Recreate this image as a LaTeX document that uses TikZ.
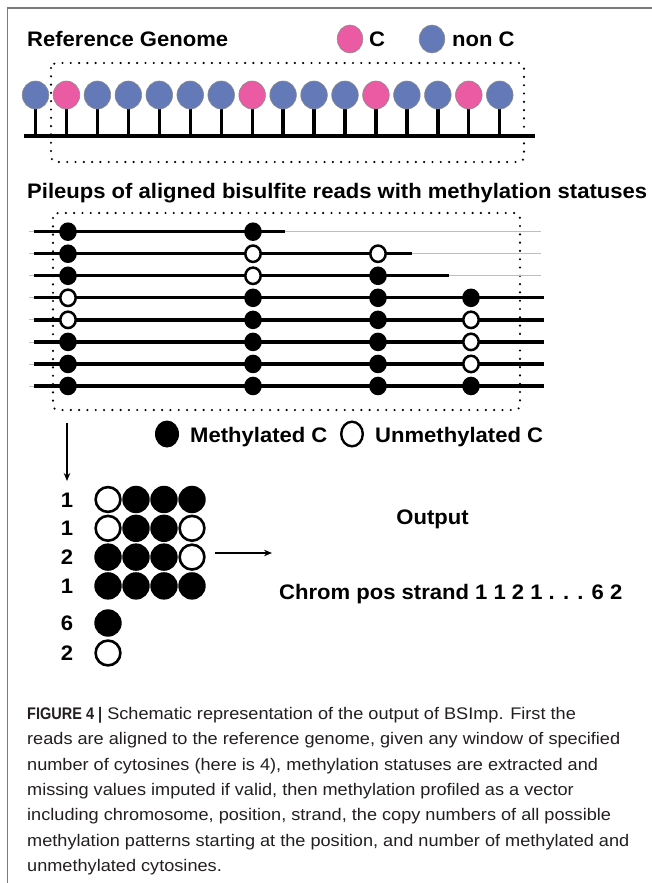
\documentclass[tikz,border=0pt]{standalone}
\usepackage{graphicx}
\usepackage{fontspec}
\setmainfont{Liberation Sans}
\newfontfamily\hfont[FakeStretch=1.05]{Liberation Sans}
\newfontfamily\cfont[FakeStretch=1.08]{Liberation Sans}
\usetikzlibrary{arrows.meta}
\definecolor{cpink}{HTML}{EA5BA4}
\definecolor{cblue}{HTML}{6479B7}
\definecolor{framegray}{HTML}{7A7A7A}
\definecolor{captxt}{HTML}{231F20}
\tikzset{
  titletext/.style={anchor=base west, inner sep=0pt, font=\hfont\bfseries\fontsize{21}{24}\selectfont},
  numtext/.style={anchor=base, inner sep=0pt, font=\hfont\bfseries\fontsize{21}{24}\selectfont},
  captext/.style={anchor=base west, inner sep=0pt, text=captxt, font=\cfont\fontsize{16.8}{20}\selectfont},
  dotbox/.style={line width=2.4pt, dash pattern=on 0pt off 8.3pt, line cap=round, rounded corners=5pt},
  readline/.style={line width=3.3pt},
  ghostline/.style={line width=0.8pt, draw=black!25},
  gcirc/.style={draw=black!45, line width=0.6pt},
  arrowline/.style={line width=1.3pt, -{Stealth[length=8pt,width=6.5pt]}},
}
\newcommand\PileMeth[2]{\fill (#1,#2) ellipse [x radius=8.8pt, y radius=9.3pt];}
\newcommand\PileUnm[2]{\draw[line width=2.5pt, fill=white] (#1,#2) ellipse [x radius=7.7pt, y radius=8.2pt];}
\newcommand\GridMeth[2]{\fill (#1,#2) circle [radius=13.7pt];}
\newcommand\GridUnm[2]{\draw[line width=2.6pt, fill=white] (#1,#2) circle [radius=12.4pt];}
\begin{document}
\begin{tikzpicture}[x=1pt,y=-1pt]
\useasboundingbox (0,0) rectangle (651,883);
\fill[white] (0,0) rectangle (651,883);
% frame
\draw[framegray, line width=1.6pt] (7.5,884) -- (7.5,8) -- (652,8);

% ---- Reference genome ----
\node[titletext] (reftitle) at (27,47) {Reference Genome};
\path[fill=cpink, gcirc] (350,39) ellipse [x radius=12.8pt, y radius=14pt];
\node[titletext] (legC) at (369,47) {C};
\path[fill=cblue, gcirc] (432,39) ellipse [x radius=12.8pt, y radius=14pt];
\node[titletext] (legNonC) at (452,47) {non C};

\foreach \i in {0,...,15} {
  \pgfmathsetmacro\xx{35.5+30.95*\i}
  \draw[line width=3.3pt] (\xx,108) -- (\xx,136);
}
\draw[line width=3.5pt] (24,136) -- (535,136);
\foreach \i/\c in {0/cblue,1/cpink,2/cblue,3/cblue,4/cblue,5/cblue,6/cblue,7/cpink,8/cblue,9/cblue,10/cblue,11/cpink,12/cblue,13/cblue,14/cpink,15/cblue} {
  \pgfmathsetmacro\xx{35.5+30.95*\i}
  \path[fill=\c, gcirc] (\xx,95) ellipse [x radius=13.3pt, y radius=14pt];
}
\draw[dotbox] (51,63) rectangle (524,162);

% ---- Pileups ----
\node[titletext] (piletitle) at (27,198.5) {Pileups of aligned bisulfite reads with methylation statuses};
\draw[dotbox] (53,213) rectangle (520,410);

\foreach \r/\e in {0/285,1/412,2/449,3/544,4/544,5/544,6/544,7/544} {
  \pgfmathsetmacro\yy{231.7+22.04*\r}
  \draw[ghostline] (29,\yy) -- (541,\yy);
  \draw[readline] (34,\yy) -- (\e,\yy);
}
% column x: 68, 253, 378, 471
\foreach \c/\r/\t in {68/0/m,253/0/m,
                      68/1/m,253/1/u,378/1/u,
                      68/2/m,253/2/u,378/2/m,
                      68/3/u,253/3/m,378/3/m,471/3/m,
                      68/4/u,253/4/m,378/4/m,471/4/u,
                      68/5/m,253/5/m,378/5/m,471/5/u,
                      68/6/m,253/6/m,378/6/m,471/6/u,
                      68/7/m,253/7/m,378/7/m,471/7/m} {
  \pgfmathsetmacro\yy{231.7+22.04*\r}
  \if\t m \PileMeth{\c}{\yy}\else \PileUnm{\c}{\yy}\fi
}

% legend
\fill (167,434) ellipse [x radius=12pt, y radius=13.5pt];
\node[titletext] (legMeth) at (190,442) {Methylated C};
\draw[line width=2.4pt, fill=white] (352,434) ellipse [x radius=10.8pt, y radius=12.3pt];
\node[titletext] (legUnm) at (375,442) {Unmethylated C};

% down arrow
\coordinate (dA) at (67,423);
\coordinate (dB) at (67,481);
\draw[arrowline] (dA) -- (dB);

% ---- pattern grid ----
\foreach \i/\n in {0/1,1/1,2/2,3/1} {
  \pgfmathsetmacro\yy{499.5+28.8*\i}
  \node[numtext] at (67,\yy+7.5) {\n};
}
\foreach \j/\i/\t in {0/0/u,1/0/m,2/0/m,3/0/m,
                      0/1/u,1/1/m,2/1/m,3/1/u,
                      0/2/m,1/2/m,2/2/m,3/2/u,
                      0/3/m,1/3/m,2/3/m,3/3/m} {
  \pgfmathsetmacro\yy{499.5+28.8*\i}
  \pgfmathsetmacro\xx{108+28*\j}
  \if\t m \GridMeth{\xx}{\yy}\else \GridUnm{\xx}{\yy}\fi
}
\node[numtext] (nsix) at (67,630.5) {6};
\GridMeth{108}{623}
\node[numtext] (ntwo) at (67,660.5) {2};
\GridUnm{108}{653}

% right arrow
\coordinate (hA) at (215,553);
\coordinate (hB) at (272,553);
\draw[arrowline] (hA) -- (hB);

\node[numtext] (output) at (432.5,524.5) {Output};
\node[titletext] (vector) at (279,599.5) {Chrom pos strand 1 1 2 1 . . . 6 2};

% ---- caption ----
\node[captext] (cap1) at (27,719.5) {\scalebox{0.8}[1]{\bfseries FIGURE 4 |} Schematic representation of the output of BSImp. First the};
\node[captext] (cap2) at (27,744.8) {reads are aligned to the reference genome, given any window of specified};
\node[captext] (cap3) at (27,770.1) {number of cytosines (here is 4), methylation statuses are extracted and};
\node[captext] (cap4) at (27,795.4) {missing values imputed if valid, then methylation profiled as a vector};
\node[captext] (cap5) at (27,820.7) {including chromosome, position, strand, the copy numbers of all possible};
\node[captext] (cap6) at (27,846) {methylation patterns starting at the position, and number of methylated and};
\node[captext] (cap7) at (27,871.3) {unmethylated cytosines.};
\end{tikzpicture}
\end{document}
